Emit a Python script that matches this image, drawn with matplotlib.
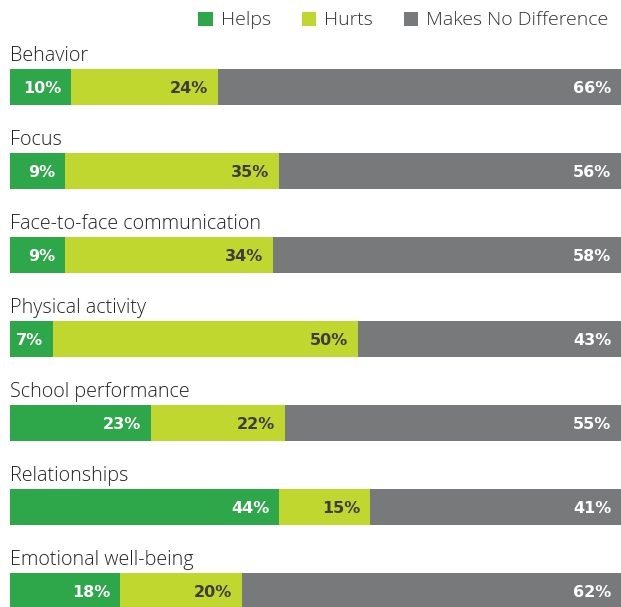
import matplotlib
matplotlib.use("Agg")
import matplotlib.pyplot as plt
from matplotlib.patches import Patch

categories = ["Behavior", "Focus", "Face-to-face communication", "Physical activity",
              "School performance", "Relationships", "Emotional well-being"]
helps = [10, 9, 9, 7, 23, 44, 18]
hurts = [24, 35, 34, 50, 22, 15, 20]
no_diff = [66, 56, 58, 43, 55, 41, 62]
series_names = ["Helps", "Hurts", "Makes No Difference"]

colors = ["#2ea64a", "#c0d72f", "#77797a"]
label_colors = ["white", "#3d3d3d", "white"]

plt.rcParams['font.family'] = ['Open Sans', 'DejaVu Sans']

W, H = 621, 607
fig = plt.figure(figsize=(W / 100, H / 100), dpi=100)
ax = fig.add_axes([10 / W, 0, 1 - 10 / W, 1])

n = len(categories)
pos = list(range(n))
bar_h = 36 / 84
ax.set_xlim(0, 100)
ax.set_ylim((H - 87) / 84, -87 / 84)
ax.axis("off")

lefts = [0] * n
for s, vals in enumerate([helps, hurts, no_diff]):
    ax.barh(pos, vals, left=lefts, height=bar_h, color=colors[s], linewidth=0,
            label=series_names[s])
    for i, v in enumerate(vals):
        end = min(lefts[i] + v, 100)
        ax.annotate(f"{v}%", xy=(end, i), xytext=(-7, 0), textcoords="offset points",
                    ha="right", va="center_baseline", fontsize=11.5, fontweight="bold",
                    family="DejaVu Sans", color=label_colors[s])
    lefts = [l + v for l, v in zip(lefts, vals)]

for i, c in enumerate(categories):
    ax.text(0, i - 0.305, c, ha="left", va="baseline", fontsize=14.2, color="#222222",
            fontweight="light")

handles = [Patch(facecolor=colors[k], edgecolor="none") for k in range(3)]
fig.legend(handles, series_names, loc="upper right", bbox_to_anchor=(1.008, 1.01),
           ncol=3, frameon=False, prop={"size": 14, "weight": "light"},
           handlelength=0.75, handleheight=0.75,
           handletextpad=0.4, columnspacing=1.6, labelcolor="#333333")

fig.savefig("out.png", dpi=100)
